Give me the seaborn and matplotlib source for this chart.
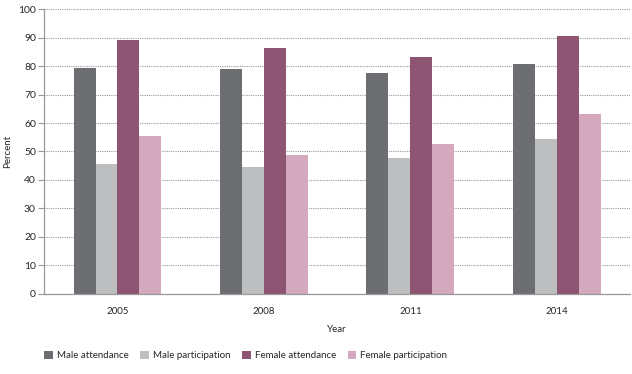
import pandas as pd
import seaborn as sns
import matplotlib.pyplot as plt

years = ["2005", "2008", "2011", "2014"]
series = ["Male attendance", "Male participation", "Female attendance", "Female participation"]
male_attendance = [79.3, 79.1, 77.6, 80.6]
male_participation = [45.5, 44.6, 47.6, 54.5]
female_attendance = [89.3, 86.3, 83.4, 90.5]
female_participation = [55.5, 48.9, 52.7, 63.3]
colors = ["#6d6e71", "#bcbec0", "#8e5572", "#d4a9bd"]

rows = []
for name, vals in zip(series, [male_attendance, male_participation, female_attendance, female_participation]):
    for y, v in zip(years, vals):
        rows.append({"Year": y, "Series": name, "Percent": v})
df = pd.DataFrame(rows)

sns.set_style("white")
plt.rcParams["font.family"] = ["Lato", "DejaVu Sans"]

fig, ax = plt.subplots(figsize=(6.32, 3.74), dpi=100)
fig.subplots_adjust(left=0.07, right=0.997, top=0.975, bottom=0.215)

sns.barplot(data=df, x="Year", y="Percent", hue="Series", hue_order=series,
            palette=colors, width=0.6, saturation=1, gap=0, linewidth=0,
            edgecolor="none", ax=ax)

ax.set_ylim(0, 100)
ax.set_yticks(range(0, 101, 10))
ax.set_xlim(-0.5, 3.5)
ax.yaxis.grid(True, linestyle=(0, (1, 1)), color="#999999", linewidth=0.8)
ax.set_axisbelow(True)
for s in ["top", "right"]:
    ax.spines[s].set_visible(False)
for s in ["left", "bottom"]:
    ax.spines[s].set_color("#999999")
    ax.spines[s].set_linewidth(0.9)

ax.set_xticks([-0.5, 0.5, 1.5, 2.5, 3.5], minor=True)
ax.tick_params(axis="x", which="major", length=0, labelsize=7, pad=10)
ax.tick_params(axis="x", which="minor", length=5, color="#999999", direction="out")
ax.tick_params(axis="y", length=4, color="#999999", labelsize=7.5, pad=2, left=True)
ax.set_xlabel("Year", fontsize=7, labelpad=6)
ax.set_ylabel("Percent", fontsize=7, labelpad=4)

ax.legend(loc="upper left", bbox_to_anchor=(-0.015, -0.17), ncol=4, frameon=False,
          fontsize=7, handlelength=0.9, handleheight=0.9, handletextpad=0.4,
          columnspacing=1.2)

plt.savefig("out.png", dpi=100)
